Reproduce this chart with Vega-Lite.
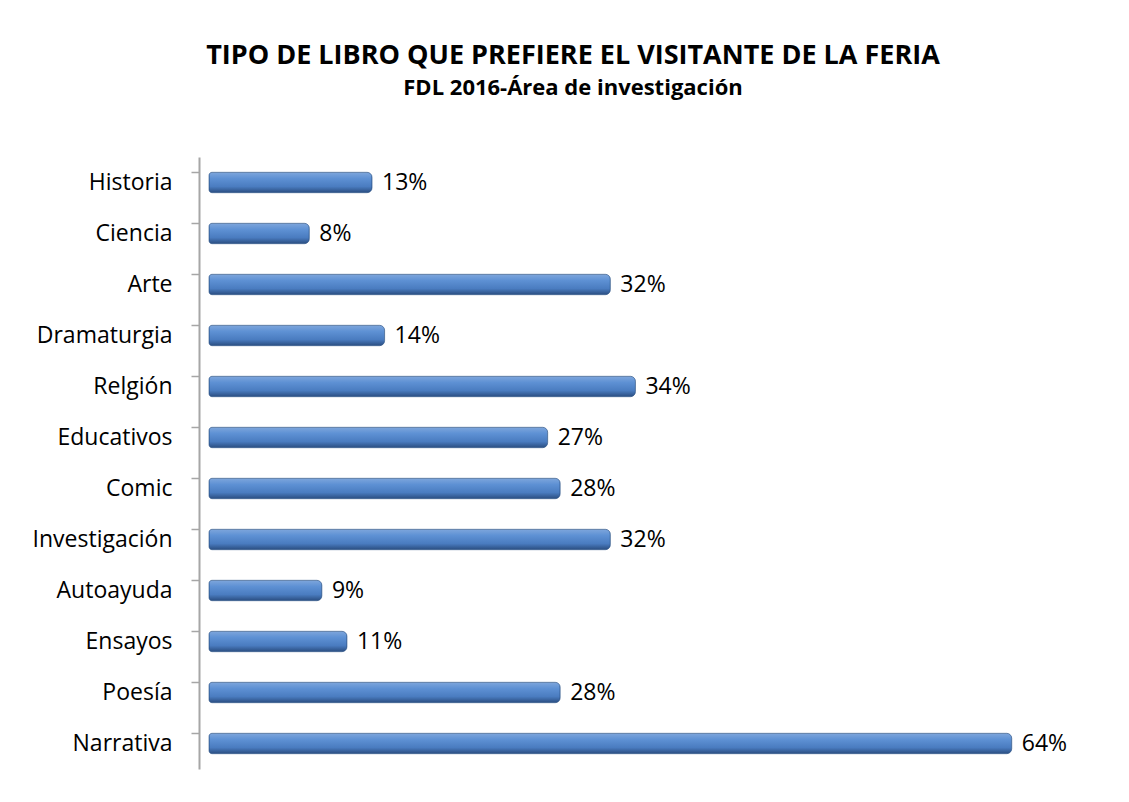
{
  "$schema": "https://vega.github.io/schema/vega-lite/v6.json",
  "autosize": "none",
  "width": 878,
  "height": 612,
  "padding": {"left": 209, "top": 157, "right": 42, "bottom": 33},
  "background": "white",
  "config": {"view": {"stroke": null}},
  "title": {
    "text": "TIPO DE LIBRO QUE PREFIERE EL VISITANTE DE LA FERIA",
    "subtitle": "FDL 2016-Área de investigación",
    "font": "Open Sans",
    "fontSize": 27,
    "fontWeight": "bold",
    "color": "#000000",
    "subtitleFont": "Open Sans",
    "subtitleFontSize": 22,
    "subtitleFontWeight": "bold",
    "subtitleColor": "#000000",
    "subtitlePadding": 8,
    "anchor": "middle",
    "dx": -75,
    "offset": 57
  },
  "data": {
    "values": [
      {"tipo": "Historia", "pct": 0.13},
      {"tipo": "Ciencia", "pct": 0.08},
      {"tipo": "Arte", "pct": 0.32},
      {"tipo": "Dramaturgia", "pct": 0.14},
      {"tipo": "Relgión", "pct": 0.34},
      {"tipo": "Educativos", "pct": 0.27},
      {"tipo": "Comic", "pct": 0.28},
      {"tipo": "Investigación", "pct": 0.32},
      {"tipo": "Autoayuda", "pct": 0.09},
      {"tipo": "Ensayos", "pct": 0.11},
      {"tipo": "Poesía", "pct": 0.28},
      {"tipo": "Narrativa", "pct": 0.64}
    ]
  },
  "encoding": {
    "y": {
      "field": "tipo",
      "type": "nominal",
      "sort": null,
      "scale": {"paddingInner": 0.6, "paddingOuter": 0.3},
      "axis": {
        "title": null,
        "offset": 10,
        "domainColor": "#a6a6a6",
        "domainWidth": 2,
        "tickColor": "#a6a6a6",
        "tickWidth": 1.5,
        "tickSize": 8,
        "bandPosition": 0,
        "labelFont": "Open Sans",
        "labelFontSize": 23,
        "labelColor": "#000000",
        "labelPadding": 19
      }
    },
    "x": {
      "field": "pct",
      "type": "quantitative",
      "scale": {"domain": [0, 0.7], "nice": false},
      "axis": null
    }
  },
  "layer": [
    {
      "mark": {
        "type": "bar",
        "cornerRadiusEnd": 5,
        "cornerRadiusTopLeft": 3,
        "cornerRadiusBottomLeft": 3,
        "stroke": "#2e5487",
        "strokeWidth": 0.6,
        "color": {
          "gradient": "linear",
          "x1": 0, "y1": 0, "x2": 0, "y2": 1,
          "stops": [
            {"offset": 0, "color": "#7ea6dc"},
            {"offset": 0.3, "color": "#5e91d4"},
            {"offset": 0.7, "color": "#4a7cc0"},
            {"offset": 1, "color": "#2a4d80"}
          ]
        }
      }
    },
    {
      "mark": {
        "type": "text",
        "align": "left",
        "baseline": "middle",
        "dx": 10,
        "font": "Open Sans",
        "fontSize": 23,
        "color": "#000000"
      },
      "encoding": {
        "text": {"field": "pct", "type": "quantitative", "format": ".0%"}
      }
    }
  ]
}
